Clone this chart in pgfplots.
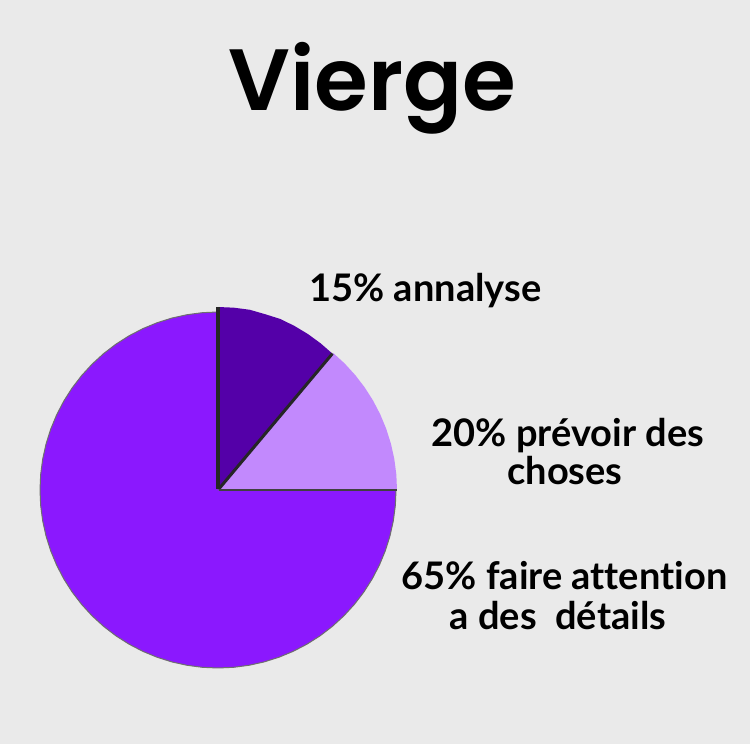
\documentclass[border=0pt]{standalone}
\usepackage{pgfplots}
\pgfplotsset{compat=1.18}
\usepackage{fontspec}
\newfontfamily\titlefont{Poppins}[UprightFont=* SemiBold]
\newfontfamily\labfont{Lato}[Ligatures=NoCommon]
\definecolor{bg}{HTML}{EAEAEA}
\definecolor{main}{HTML}{8B18FE}
\definecolor{darkp}{HTML}{5400A8}
\definecolor{lightp}{HTML}{C289FD}
\definecolor{rim}{HTML}{6E6E6E}

\begin{document}
\begin{tikzpicture}
\fill[bg] (0,0) rectangle (750pt,744pt);
\begin{axis}[
  at={(0,0)}, anchor=south west,
  scale only axis, width=750pt, height=744pt,
  xmin=-218, xmax=532, ymin=-254, ymax=490,
  hide axis, clip=false
]
% 65% faire attention a des details (angle, radius)
\addplot[fill=main, draw=rim, line width=1pt, data cs=polar] coordinates {
 (90,0) (90,178) (95,178) (100,178) (105,178) (110,178) (115,178) (120,178) (125,178)
 (130,178) (135,178) (140,178) (145,178) (150,178) (155,178) (160,178) (165,178)
 (170,178) (175,178) (180,178) (185,178) (190,178) (195,178) (200,178) (205,178)
 (210,178) (215,178) (220,178) (225,178) (230,178) (235,178) (240,178) (245,178)
 (250,178) (255,178) (260,178) (265,178) (270,178) (275,178) (280,178) (285,178)
 (290,178) (295,178) (300,178) (305,178) (310,178) (315,178) (320,178) (325,178)
 (330,178) (335,178) (340,178) (345,178) (350,178) (355,178) (360,178) (360,0)
} -- cycle;
% 20% prevoir des choses
\addplot[fill=lightp, draw=none, data cs=polar] coordinates {
 (0,0) (0,179) (5,179) (10,179) (15,179) (20,179) (25,179) (30,179) (35,179)
 (40,179) (45,179) (50,179) (50,0)
} -- cycle;
% 15% annalyse
\addplot[fill=darkp, draw=none, data cs=polar] coordinates {
 (50,0) (50,178) (55,179) (60,180) (65,181) (70,182) (75,182) (80,183) (85,183)
 (90,183) (90,0)
} -- cycle;
% shadow edges
\addplot[black!85, line width=4pt, data cs=polar] coordinates {(90,183) (90,1)};
\addplot[black!85, line width=3pt, data cs=polar] coordinates {(50,178) (50,1)};
\addplot[black!75, line width=1.5pt, data cs=polar] coordinates {(0,1) (0,179)};

\node[anchor=base, font=\titlefont\fontsize{87}{100}\selectfont] at (axis cs:154.5,379) {Vierge};
\begin{scope}[every node/.style={anchor=base, font=\labfont\bfseries\fontsize{38}{40}\selectfont}]
\node at (axis cs:207.5,188) {15\% annalyse};
\node at (axis cs:350,43) {20\% prévoir des};
\node at (axis cs:347,5) {choses};
\node at (axis cs:346.5,-100) {65\% faire attention};
\node at (axis cs:340,-140) {a des~ détails};
\end{scope}
\end{axis}
\end{tikzpicture}
\end{document}
